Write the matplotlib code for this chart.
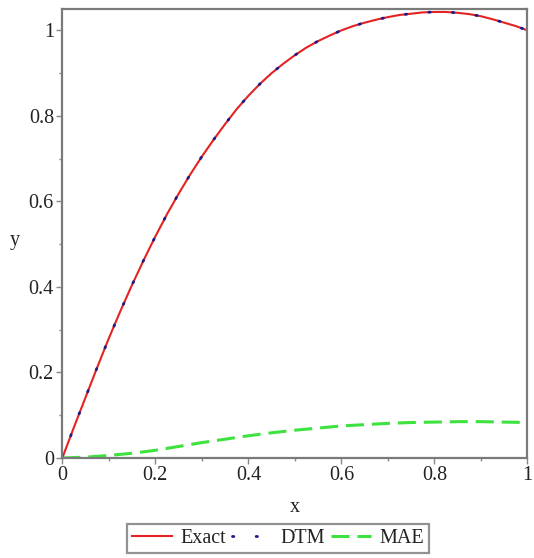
import matplotlib
matplotlib.use("Agg")
import matplotlib.pyplot as plt
from matplotlib.ticker import MultipleLocator

# values
x_vals = [0.0, 0.025, 0.05, 0.075, 0.1, 0.125, 0.15, 0.175, 0.2, 0.225, 0.25,
          0.275, 0.3, 0.325, 0.35, 0.375, 0.4, 0.425, 0.45, 0.475, 0.5,
          0.525, 0.55, 0.575, 0.6, 0.625, 0.65, 0.675, 0.7, 0.725, 0.75,
          0.775, 0.8, 0.825, 0.85, 0.875, 0.9, 0.925, 0.95, 0.975, 1.0]
exact_y = [0.0, 0.072, 0.142, 0.212, 0.280, 0.344, 0.405, 0.463, 0.518, 0.570, 0.618,
           0.663, 0.705, 0.744, 0.781, 0.816, 0.847, 0.875, 0.900, 0.922, 0.942,
           0.960, 0.975, 0.988, 1.000, 1.010, 1.018, 1.025, 1.031, 1.036, 1.039,
           1.042, 1.043, 1.043, 1.041, 1.038, 1.033, 1.026, 1.018, 1.010, 1.000]
dtm_y = [0.0, 0.072, 0.142, 0.212, 0.280, 0.344, 0.405, 0.463, 0.518, 0.570, 0.618,
         0.663, 0.705, 0.744, 0.781, 0.816, 0.847, 0.875, 0.900, 0.922, 0.942,
         0.960, 0.975, 0.988, 1.000, 1.010, 1.018, 1.025, 1.031, 1.036, 1.039,
         1.042, 1.043, 1.043, 1.041, 1.038, 1.033, 1.026, 1.018, 1.010, 1.000]
mae_x = [0.0, 0.05, 0.1, 0.15, 0.2, 0.25, 0.3, 0.35, 0.4, 0.45, 0.5,
         0.55, 0.6, 0.65, 0.7, 0.75, 0.8, 0.85, 0.9, 0.95, 1.0]
mae_y = [0.0, 0.002, 0.006, 0.011, 0.018, 0.027, 0.036, 0.044, 0.052, 0.059, 0.065,
         0.070, 0.075, 0.078, 0.081, 0.083, 0.084, 0.085, 0.085, 0.084, 0.083]
tick_vals = [0, 0.2, 0.4, 0.6, 0.8, 1.0]
tick_text = ['0', '0.2', '0.4', '0.6', '0.8', '1']

plt.rcParams['font.family'] = ['Liberation Serif', 'DejaVu Serif']
plt.rcParams['font.size'] = 14.5

fig = plt.figure(figsize=(5.34, 5.58), dpi=100)
ax = fig.add_axes([0.1167, 0.1792, 0.8711, 0.8047])

ax.plot(x_vals, exact_y, color='#e52222', lw=1.5, label='Exact')
ax.plot(x_vals, dtm_y, color='#1c1c8a', lw=2.0, dashes=(0.5, 8.0),
        dash_capstyle='round', label='DTM')
ax.plot(mae_x, mae_y, color='#3ee23e', lw=2.2, dashes=(5.9, 2.6), label='MAE')

ax.set_xlim(0, 1)
ax.set_ylim(0, 1.05)
ax.xaxis.set_minor_locator(MultipleLocator(0.1))
ax.yaxis.set_minor_locator(MultipleLocator(0.1))
ax.set_xticks(tick_vals)
ax.set_xticklabels(tick_text)
ax.set_yticks(tick_vals)
ax.set_yticklabels(tick_text)
ax.tick_params(which='major', direction='out', length=4, width=1, color='#888888',
               pad=2, labelcolor='#222222')
ax.tick_params(which='minor', direction='out', length=2.5, width=1, color='#888888')

for s in ax.spines.values():
    s.set_color('#7a7a7a')
    s.set_linewidth(1.6)

ax.set_xlabel('x', labelpad=9, color='#222222')
fig.text(15 / 534, 1 - 240 / 558, 'y', ha='center', va='center', color='#222222')

leg = fig.legend(loc='lower left', bbox_to_anchor=(127 / 534, 1 - 553 / 558), ncol=3,
                 frameon=True, fancybox=False, handlelength=2.0, handletextpad=0.4,
                 columnspacing=0.3, borderpad=0.25, borderaxespad=0)
leg.get_frame().set_edgecolor('#777777')
leg.get_frame().set_linewidth(1.6)
for t in leg.get_texts():
    t.set_color('#222222')

fig.savefig('out.png', dpi=100)
